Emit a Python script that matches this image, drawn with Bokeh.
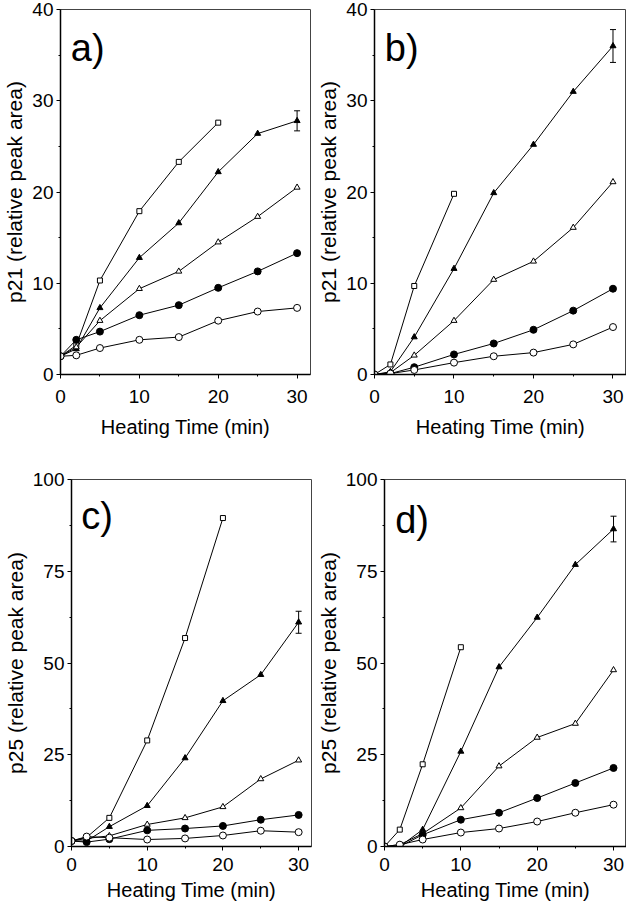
from bokeh.plotting import figure
from bokeh.layouts import column, row
from bokeh.models import Range1d, Label, Whisker, ColumnDataSource, TeeHead, FixedTicker
from bokeh.embed import file_html
from bokeh.resources import INLINE

# ---------------- data ----------------
time_full = [0, 2, 5, 10, 15, 20, 25, 30]
time_to20 = [0, 2, 5, 10, 15, 20]
time_to10 = [0, 2, 5, 10]

# panel a (p21)
a_sq = [2.0, 3.2, 10.3, 17.9, 23.3, 27.6]
a_ftri = [2.0, 2.8, 7.3, 12.8, 16.6, 22.2, 26.4, 27.8]
a_otri = [2.0, 3.0, 5.9, 9.4, 11.3, 14.5, 17.3, 20.5]
a_fcir = [2.0, 3.8, 4.7, 6.5, 7.6, 9.5, 11.3, 13.3]
a_ocir = [2.0, 2.1, 2.9, 3.8, 4.1, 5.9, 6.9, 7.3]
a_err = 1.1

# panel b (p21)
b_sq = [0.0, 1.1, 9.7, 19.8]
b_ftri = [0.0, 0.3, 4.1, 11.6, 19.9, 25.2, 31.0, 36.0]
b_otri = [0.0, 0.2, 2.1, 5.9, 10.4, 12.4, 16.1, 21.1]
b_fcir = [0.0, 0.1, 0.8, 2.2, 3.4, 4.9, 7.0, 9.4]
b_ocir = [0.0, 0.1, 0.5, 1.3, 2.0, 2.4, 3.3, 5.2]
b_err = 1.8

# panel c (p25)
c_sq = [1.5, 2.5, 7.8, 28.9, 56.8, 89.5]
c_ftri = [1.5, 1.5, 5.4, 11.1, 24.1, 39.7, 46.8, 61.1]
c_otri = [1.5, 2.2, 2.9, 6.0, 7.8, 10.8, 18.4, 23.5]
c_fcir = [1.5, 1.2, 2.0, 4.4, 4.9, 5.6, 7.3, 8.6]
c_ocir = [1.5, 2.7, 2.4, 1.9, 2.2, 3.0, 4.3, 3.9]
c_err = 3.0

# panel d (p25)
d_sq = [0.0, 4.6, 22.4, 54.3]
d_ftri = [0.0, 0.0, 4.6, 25.9, 48.9, 62.4, 76.8, 86.5]
d_otri = [0.0, 0.5, 3.5, 10.5, 21.9, 29.7, 33.5, 48.1]
d_fcir = [0.0, 0.0, 3.2, 7.3, 9.2, 13.2, 17.3, 21.4]
d_ocir = [0.0, 0.5, 1.9, 3.8, 4.9, 6.8, 9.2, 11.4]
d_err = 3.5

x_ticks = [0, 10, 20, 30]
y_ticks_p21 = [0, 10, 20, 30, 40]
y_ticks_p25 = [0, 25, 50, 75, 100]
x_label = "Heating Time (min)"
y_label_p21 = "p21 (relative peak area)"
y_label_p25 = "p25 (relative peak area)"

FONT = "Liberation Sans"


def make_panel(tag, sq_x, sq, ftri, otri, fcir, ocir, err, ymax, yticks, ylabel,
               width, height, bl, br, bt, bb, tag_x, tag_y, xl_standoff, xt_standoff):
    p = figure(width=width, height=height, output_backend="svg", toolbar_location=None,
               x_range=Range1d(0, 31.7), y_range=Range1d(0, ymax),
               min_border_left=bl, min_border_right=br, min_border_top=bt, min_border_bottom=bb)
    p.grid.visible = False
    p.background_fill_color = "white"
    p.border_fill_color = "white"
    p.outline_line_color = "#444444"
    p.outline_line_width = 1

    p.xaxis.ticker = FixedTicker(ticks=x_ticks, minor_ticks=[5, 15, 25])
    minor_y = [(yticks[i] + yticks[i + 1]) / 2 for i in range(len(yticks) - 1)]
    p.yaxis.ticker = FixedTicker(ticks=yticks, minor_ticks=minor_y)
    for ax in (p.xaxis[0], p.yaxis[0]):
        ax.axis_line_color = "black"
        ax.axis_line_width = 1.5
        ax.major_tick_line_color = "black"
        ax.minor_tick_line_color = "black"
        ax.major_tick_in = 0
        ax.major_tick_out = 4
        ax.minor_tick_in = 0
        ax.minor_tick_out = 2
        ax.major_label_text_font = FONT
        ax.major_label_text_font_size = "19px"
        ax.major_label_text_color = "black"
        ax.axis_label_text_font = FONT
        ax.axis_label_text_font_style = "normal"
        ax.axis_label_text_color = "black"
    p.xaxis.axis_label = x_label
    p.xaxis.axis_label_text_font_size = "20px"
    p.xaxis.major_label_standoff = xt_standoff
    p.xaxis.axis_label_standoff = xl_standoff
    p.yaxis.axis_label = ylabel
    p.yaxis.axis_label_text_font_size = "21px"
    p.yaxis.major_label_standoff = 3
    p.yaxis.axis_label_standoff = 3

    lc = "black"
    series = [
        (sq_x, sq, "square", "white", 5),
        (time_full, ftri, "triangle", "black", 6),
        (time_full, otri, "triangle", "white", 6),
        (time_full, fcir, "circle", "black", 7),
        (time_full, ocir, "circle", "white", 7),
    ]
    for xs, ys, _, _, _ in series:
        p.line(xs, ys, line_color=lc, line_width=1)
    for xs, ys, marker, fill, size in series:
        p.scatter(xs, ys, marker=marker, size=size, fill_color=fill, line_color=lc, line_width=1)

    # error bar on last filled-triangle point
    src = ColumnDataSource(dict(x=[time_full[-1]], upper=[ftri[-1] + err], lower=[ftri[-1] - err]))
    p.add_layout(Whisker(source=src, base="x", upper="upper", lower="lower", dimension="height",
                         line_color="black", line_width=1,
                         upper_head=TeeHead(size=6, line_color="black", line_width=1),
                         lower_head=TeeHead(size=6, line_color="black", line_width=1)))

    p.add_layout(Label(x=tag_x, y=tag_y, text=tag, text_font=FONT, text_font_size="38px",
                       text_color="black", text_align="left", text_baseline="middle"))
    return p


pa = make_panel("a)", time_to20, a_sq, a_ftri, a_otri, a_fcir, a_ocir, a_err, 40, y_ticks_p21,
                y_label_p21, 313, 454, 51, 3, 9, 80, 1.3, 35.8, 10, 11)
pb = make_panel("b)", time_to10, b_sq, b_ftri, b_otri, b_fcir, b_ocir, b_err, 40, y_ticks_p21,
                y_label_p21, 313, 454, 61, 0, 9, 80, 1.3, 35.8, 10, 11)
pc = make_panel("c)", time_to20, c_sq, c_ftri, c_otri, c_fcir, c_ocir, c_err, 100, y_ticks_p25,
                y_label_p25, 313, 454, 60, 2, 25, 62, 1.3, 90, 5, 7)
pd = make_panel("d)", time_to10, d_sq, d_ftri, d_otri, d_fcir, d_ocir, d_err, 100, y_ticks_p25,
                y_label_p25, 313, 454, 70, 0, 25, 62, 1.4, 89, 5, 7)

layout = column(row(pa, pb), row(pc, pd))
open("out.html", "w").write(file_html(layout, INLINE))
